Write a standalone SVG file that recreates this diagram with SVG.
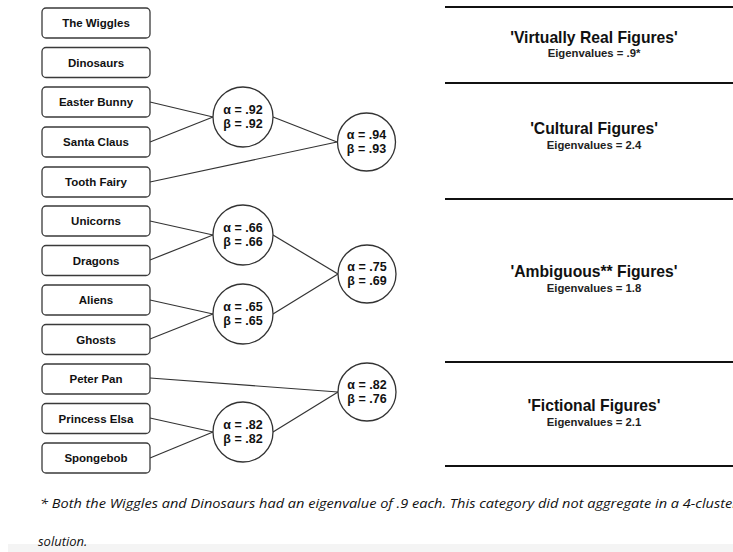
<svg xmlns="http://www.w3.org/2000/svg" width="733" height="552" viewBox="0 0 733 552">
<style>
.box{fill:#fff;stroke:#3a3a3a;stroke-width:1.3}
.bl{font-family:"Liberation Sans",Arial,sans-serif;font-weight:bold;font-size:11.5px;fill:#111;text-anchor:middle}
.cir{fill:#fff;stroke:#333;stroke-width:1.3}
.cl{font-family:"Liberation Sans",Arial,sans-serif;font-weight:bold;font-size:12.5px;fill:#111;text-anchor:middle}
.con line{stroke:#333;stroke-width:1.2}
.sep{stroke:#111;stroke-width:2}
.tt{font-family:"Liberation Sans",Arial,sans-serif;font-weight:bold;font-size:15.7px;fill:#111;text-anchor:middle}
.ev{font-family:"Liberation Sans",Arial,sans-serif;font-weight:bold;font-size:11.3px;fill:#222;text-anchor:middle}
.fn{font-family:"Open Sans","Liberation Sans",sans-serif;font-style:italic;font-size:13px;fill:#111}
</style>
<rect width="733" height="552" fill="#fff"/>
<rect x="8" y="544" width="725" height="8" fill="#f4f4f4"/>

<g id="connectors" class="con">
<line x1="150" y1="102" x2="213" y2="117"/>
<line x1="150" y1="142" x2="213" y2="117"/>
<line x1="273" y1="117" x2="337" y2="142"/>
<line x1="150" y1="182" x2="337" y2="142"/>
<line x1="150" y1="221" x2="213" y2="235"/>
<line x1="150" y1="260" x2="213" y2="235"/>
<line x1="150" y1="300" x2="213" y2="314"/>
<line x1="150" y1="339" x2="213" y2="314"/>
<line x1="273" y1="235" x2="338" y2="274"/>
<line x1="273" y1="314" x2="338" y2="274"/>
<line x1="150" y1="378" x2="338" y2="392"/>
<line x1="150" y1="418" x2="213" y2="432"/>
<line x1="150" y1="458" x2="213" y2="432"/>
<line x1="273" y1="432" x2="338" y2="392"/>
</g>

<g id="n-wiggles"><rect class="box" x="42" y="8" width="108" height="30" rx="4"/><text class="bl" x="96" y="27">The Wiggles</text></g>
<g id="n-dinosaurs"><rect class="box" x="42" y="47.5" width="108" height="30" rx="4"/><text class="bl" x="96" y="66.5">Dinosaurs</text></g>
<g id="n-easter"><rect class="box" x="42" y="87" width="108" height="30" rx="4"/><text class="bl" x="96" y="106">Easter Bunny</text></g>
<g id="n-santa"><rect class="box" x="42" y="127" width="108" height="30" rx="4"/><text class="bl" x="96" y="146">Santa Claus</text></g>
<g id="n-tooth"><rect class="box" x="42" y="167" width="108" height="30" rx="4"/><text class="bl" x="96" y="186">Tooth Fairy</text></g>
<g id="n-unicorns"><rect class="box" x="42" y="206" width="108" height="30" rx="4"/><text class="bl" x="96" y="225">Unicorns</text></g>
<g id="n-dragons"><rect class="box" x="42" y="245.5" width="108" height="30" rx="4"/><text class="bl" x="96" y="264.5">Dragons</text></g>
<g id="n-aliens"><rect class="box" x="42" y="285" width="108" height="30" rx="4"/><text class="bl" x="96" y="304">Aliens</text></g>
<g id="n-ghosts"><rect class="box" x="42" y="324.5" width="108" height="30" rx="4"/><text class="bl" x="96" y="343.5">Ghosts</text></g>
<g id="n-peter"><rect class="box" x="42" y="364" width="108" height="30" rx="4"/><text class="bl" x="96" y="383">Peter Pan</text></g>
<g id="n-elsa"><rect class="box" x="42" y="403.5" width="108" height="30" rx="4"/><text class="bl" x="96" y="422.5">Princess Elsa</text></g>
<g id="n-spongebob"><rect class="box" x="42" y="443" width="108" height="30" rx="4"/><text class="bl" x="96" y="462">Spongebob</text></g>

<g id="c1"><circle class="cir" cx="243" cy="117" r="30"/><text class="cl" x="243" y="114">α = .92</text><text class="cl" x="243" y="128">β = .92</text></g>
<g id="c2"><circle class="cir" cx="366.5" cy="142" r="29"/><text class="cl" x="366.5" y="139">α = .94</text><text class="cl" x="366.5" y="153">β = .93</text></g>
<g id="c3"><circle class="cir" cx="243" cy="235" r="30"/><text class="cl" x="243" y="232">α = .66</text><text class="cl" x="243" y="246">β = .66</text></g>
<g id="c4"><circle class="cir" cx="243" cy="314" r="30"/><text class="cl" x="243" y="311">α = .65</text><text class="cl" x="243" y="325">β = .65</text></g>
<g id="c5"><circle class="cir" cx="367" cy="274" r="29"/><text class="cl" x="367" y="271">α = .75</text><text class="cl" x="367" y="285">β = .69</text></g>
<g id="c6"><circle class="cir" cx="367" cy="392" r="29"/><text class="cl" x="367" y="389">α = .82</text><text class="cl" x="367" y="403">β = .76</text></g>
<g id="c7"><circle class="cir" cx="243" cy="432" r="30"/><text class="cl" x="243" y="429">α = .82</text><text class="cl" x="243" y="443">β = .82</text></g>

<g id="categories">
<line class="sep" x1="445" y1="7" x2="733" y2="7"/>
<line class="sep" x1="445" y1="83" x2="733" y2="83"/>
<line class="sep" x1="445" y1="199" x2="733" y2="199"/>
<line class="sep" x1="445" y1="362" x2="733" y2="362"/>
<line class="sep" x1="445" y1="466" x2="733" y2="466"/>
<g id="cat-virtual"><text class="tt" x="594" y="42.5">'Virtually Real Figures'</text><text class="ev" x="594" y="57">Eigenvalues = .9*</text></g>
<g id="cat-cultural"><text class="tt" x="594" y="133.5">'Cultural Figures'</text><text class="ev" x="594" y="149">Eigenvalues = 2.4</text></g>
<g id="cat-ambiguous"><text class="tt" x="594" y="277">'Ambiguous** Figures'</text><text class="ev" x="594" y="292">Eigenvalues = 1.8</text></g>
<g id="cat-fictional"><text class="tt" x="594" y="411">'Fictional Figures'</text><text class="ev" x="594" y="426">Eigenvalues = 2.1</text></g>
</g>

<text class="fn" x="40" y="508" textLength="698" lengthAdjust="spacingAndGlyphs">* Both the Wiggles and Dinosaurs had an eigenvalue of .9 each. This category did not aggregate in a 4-cluster</text>
<text class="fn" x="38" y="546">solution.</text>
</svg>
